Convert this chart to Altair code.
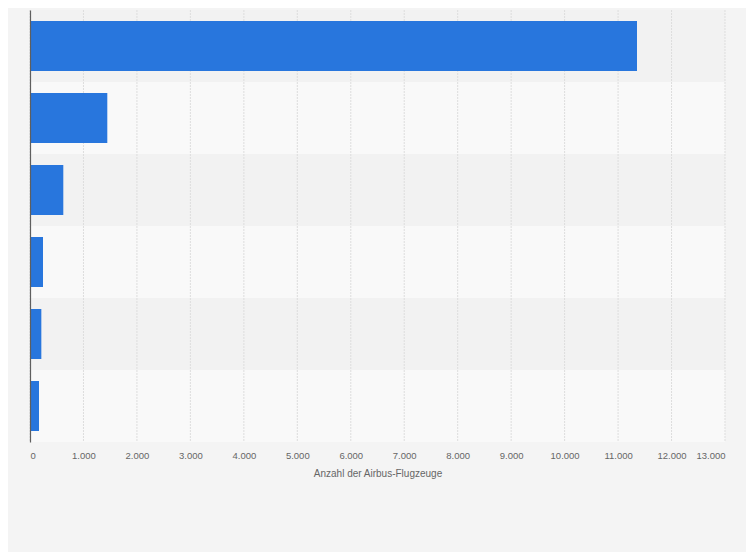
import altair as alt
import pandas as pd

categories = ["A320-Familie", "A330", "A350", "A380", "A220", "A300/A310"]
values = [11354, 1446, 623, 243, 212, 168]
tick_values = list(range(0, 13001, 1000))

df = pd.DataFrame({"Typ": categories, "Anzahl": values})
ticks_df = pd.DataFrame({"t": tick_values})

y_enc = alt.Y(
    "Typ:N",
    sort=categories,
    scale=alt.Scale(paddingInner=0, paddingOuter=0),
    axis=alt.Axis(title=None, labels=False, ticks=False, domain=True,
                  domainColor="#5f5f5f", domainWidth=1.2, zindex=1),
)
x_scale = alt.Scale(domain=[0, 13000], nice=False, zero=True)
x_axis = alt.Axis(
    values=tick_values,
    labelExpr="replace(format(datum.value, ',d'), ',', '.')",
    grid=False, domain=False, ticks=False,
    title="Anzahl der Airbus-Flugzeuge",
    labelColor="#666666", labelFontSize=9.5, labelFont="Liberation Sans",
    labelPadding=8,
    titleColor="#666666", titleFontSize=10, titleFont="Liberation Sans",
    titleFontWeight="normal", titlePadding=9,
)

bg = alt.Chart(df).transform_window(rn="row_number()").mark_rect().encode(
    y=y_enc,
    x=alt.value(0),
    x2=alt.value(695),
    color=alt.condition("datum.rn % 2 == 0", alt.value("#f9f9f9"), alt.value("#f2f2f2")),
)

grid = alt.Chart(ticks_df).mark_rule(color="#dddddd", strokeDash=[2, 1], strokeWidth=1).encode(
    x=alt.X("t:Q", scale=x_scale, axis=x_axis),
)

bars = alt.Chart(df).mark_bar(size=50, color="#2876dd").encode(
    x=alt.X("Anzahl:Q", scale=x_scale, axis=x_axis),
    y=y_enc,
)

chart = alt.layer(bg, grid, bars).properties(
    width=695,
    height=432,
    autosize=alt.AutoSizeParams(type="none"),
    padding={"left": 22, "top": 2, "right": 21, "bottom": 110},
    background="#f4f4f4",
).configure_view(stroke=None)

chart.save("out.html", embed_options={"renderer": "svg", "actions": False})
